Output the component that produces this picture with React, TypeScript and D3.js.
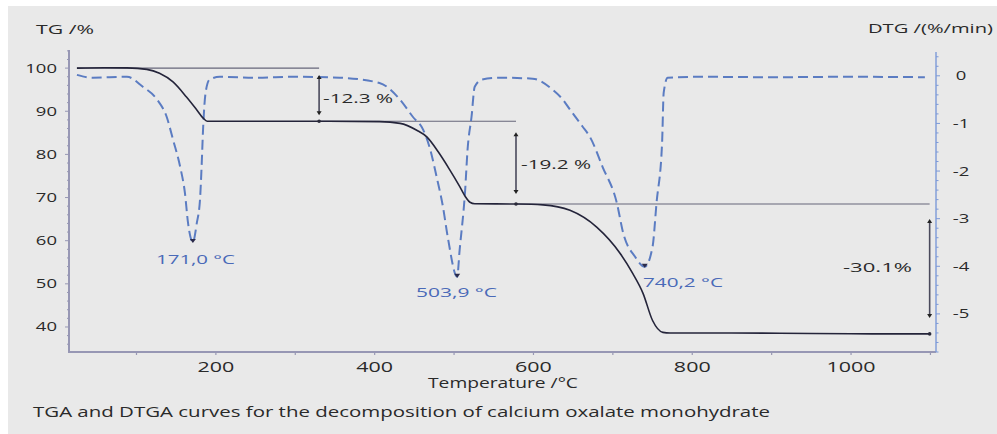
import React from "react";
import * as d3 from "d3";

// Thermogravimetric curve of CaC2O4·H2O: temperature (°C) vs. residual mass (%)
const tgTemp = [25, 60, 88, 113, 129, 146, 163, 176, 184, 189, 200, 300, 406, 432, 453, 466, 480, 494, 507, 515, 520, 526, 580, 612, 646, 680, 709, 725, 738, 750, 763, 772, 850, 950, 1050, 1099];
const tgValue = [100, 100.1, 100.05, 99.7, 98.8, 96.8, 93.3, 90.3, 88.4, 87.7, 87.7, 87.7, 87.6, 87.2, 85.6, 84.0, 80.6, 76.6, 72.6, 70.0, 68.9, 68.55, 68.5, 68.3, 67.05, 63.1, 57.1, 52.4, 47.8, 41.5, 38.75, 38.6, 38.6, 38.5, 38.4, 38.4];

// Derivative curve: temperature (°C) vs. mass-loss rate (%/min)
const dtgTemp = [25, 45, 88, 108, 126, 138, 146, 155, 161, 165, 171, 176, 180, 182, 184, 187, 192, 205, 250, 300, 356, 406, 432, 448, 461, 470, 478, 486, 492, 503.9, 507, 514, 517, 522, 526, 535, 558, 599, 624, 637, 646, 662, 671, 687, 705, 713, 728, 740.2, 750, 755, 762, 764, 769, 810, 900, 1000, 1093];
const dtgValue = [0.02, -0.04, -0.02, -0.23, -0.5, -0.86, -1.34, -1.91, -2.46, -3.1, -3.49, -3.09, -2.6, -1.91, -1.07, -0.36, -0.08, -0.02, -0.04, -0.02, -0.04, -0.15, -0.5, -0.86, -1.13, -1.55, -2.12, -2.75, -3.38, -4.22, -3.66, -2.39, -1.55, -0.86, -0.23, -0.08, -0.04, -0.06, -0.29, -0.5, -0.71, -1.07, -1.28, -1.91, -2.67, -3.3, -3.8, -4.01, -3.59, -2.67, -1.41, -0.36, -0.04, -0.02, -0.03, -0.02, -0.03];

// DTG peak temperatures
const peakTemps = [171.0, 503.9, 740.2];

// Mass-loss steps: plateau levels (%) and the temperature where each step is measured
const plateauLevels = [100, 87.7, 68.5, 38.4];
const stepLosses = [12.3, 19.2, 30.1];
const stepTemps = [330, 578, 1099];
const plateauStart = 25;

// Axis ticks
const xTicks = [200, 400, 600, 800, 1000];
const xMinorTicks = [100, 200, 300, 400, 500, 600, 700, 800, 900, 1000, 1100];
const tgTicks = [40, 50, 60, 70, 80, 90, 100];
const dtgTicks = [0, -1, -2, -3, -4, -5];

const caption = "TGA and DTGA curves for the decomposition of calcium oxalate monohydrate";

const W = 997;
const H = 434;
const FONT = "'Open Sans', 'Noto Sans', sans-serif";
const SX = 1.48;

const x = d3.scaleLinear().domain([15, 1107]).range([69, 936]);
const yTG = d3.scaleLinear().domain([34.2, 104.2]).range([352, 50]);
const yDTG = d3.scaleLinear().domain([-5.8, 0.5]).range([352, 52]);

const tgLine = d3
  .line<number>()
  .x((_, i) => x(tgTemp[i]))
  .y((v) => yTG(v))
  .curve(d3.curveMonotoneX);

const dtgLine = d3
  .line<number>()
  .x((_, i) => x(dtgTemp[i]))
  .y((v) => yDTG(v))
  .curve(d3.curveMonotoneX);

function dtgAt(t: number) {
  const i = dtgTemp.findIndex((d) => Math.abs(d - t) < 0.01);
  return dtgValue[i];
}

const fmtComma = (v: number) => v.toFixed(1).replace(".", ",");

// Stretched label with an exact rendered width
function Label(props: { x: number; y: number; w: number; size: number; fill: string; text: string }) {
  return (
    <text
      x={props.x}
      y={props.y}
      fontSize={props.size}
      fontFamily={FONT}
      fill={props.fill}
      textLength={props.w}
      lengthAdjust="spacingAndGlyphs"
    >
      {props.text}
    </text>
  );
}

function Arrow({ xp, y1, y2 }: { xp: number; y1: number; y2: number }) {
  const c = "#4a4a5c";
  return (
    <g>
      <line x1={xp} x2={xp} y1={y1 + 2} y2={y2 - 2} stroke={c} strokeWidth={1.6} />
      <path d={`M${xp - 2.5},${y1 + 4} L${xp},${y1} L${xp + 2.5},${y1 + 4} Z`} fill="#222" />
      <path d={`M${xp - 2.5},${y2 - 4} L${xp},${y2} L${xp + 2.5},${y2 - 4} Z`} fill="#222" />
    </g>
  );
}

export default function App() {
  const tgPath = tgLine(tgValue) || "";
  const dtgPath = dtgLine(dtgValue) || "";
  const blue = "#5b7cc2";
  const axisGray = "#9797b4";

  const stepLabelPos = [
    { x: 323, y: 103, w: 70 },
    { x: 521, y: 169, w: 70 },
    { x: 843, y: 272, w: 69 },
  ];
  const stepText = ["-12.3 %", "-19.2 %", "-30.1%"];
  const arrowInset = [
    [7, 6],
    [11, 10],
    [15, 16],
  ];
  const peakLabelPos = [
    { x: 156, y: 264, w: 79 },
    { x: 416, y: 297, w: 81 },
    { x: 643, y: 287, w: 80 },
  ];

  return (
    <svg width={W} height={H} style={{ position: "absolute", left: 0, top: 0, display: "block" }}>
      <rect x={0} y={0} width={W} height={H} fill="#ffffff" />
      <rect x={8} y={6} width={W - 8} height={H - 6} fill="#e9e9e9" />

      {/* axis titles */}
      <Label x={36} y={33.5} w={58} size={12.5} fill="#2a2a2a" text="TG /%" />
      <Label x={868} y={32.5} w={125} size={12.5} fill="#2a2a2a" text="DTG /(%/min)" />

      {/* left axis */}
      <line x1={69} x2={69} y1={50} y2={352} stroke={axisGray} strokeWidth={2} />
      {d3.range(36, 104.1, 2).map((v) => (
        <line key={"tm" + v} x1={69} x2={v % 10 === 0 ? 65 : 67} y1={yTG(v)} y2={yTG(v)} stroke={axisGray} strokeWidth={1} />
      ))}
      {tgTicks.map((v) => (
        <text
          key={"tg" + v}
          transform={`translate(57,${yTG(v) + 4.5}) scale(${SX},1)`}
          textAnchor="end"
          fontSize={12.5}
          fontFamily={FONT}
          fill="#2a2a2a"
        >
          {v}
        </text>
      ))}

      {/* bottom axis */}
      <line x1={68} x2={936} y1={352} y2={352} stroke={axisGray} strokeWidth={2} />
      {xMinorTicks.map((v) => (
        <line key={"xm" + v} x1={x(v)} x2={x(v)} y1={352} y2={355} stroke={axisGray} strokeWidth={1.2} />
      ))}
      {xTicks.map((v) => (
        <text
          key={"x" + v}
          transform={`translate(${x(v)},372) scale(${SX},1)`}
          textAnchor="middle"
          fontSize={14.5}
          fontFamily={FONT}
          fill="#2a2a2a"
        >
          {v}
        </text>
      ))}
      <Label x={428} y={388} w={150} size={14} fill="#2a2a2a" text="Temperature /°C" />

      {/* right axis */}
      <line x1={936} x2={936} y1={52} y2={352} stroke="#7d9ad8" strokeWidth={1.4} />
      {d3.range(-5.8, 0.41, 0.2).map((v) => {
        const major = Math.abs(v - Math.round(v)) < 1e-6;
        return (
          <line key={"dm" + v.toFixed(1)} x1={936} x2={major ? 940 : 938.5} y1={yDTG(v)} y2={yDTG(v)} stroke="#7d9ad8" strokeWidth={1} />
        );
      })}
      {dtgTicks.map((v) => (
        <text
          key={"dtg" + v}
          transform={`translate(961,${yDTG(v) + 4.5}) scale(${SX},1)`}
          textAnchor="middle"
          fontSize={12.5}
          fontFamily={FONT}
          fill="#2a2a2a"
        >
          {v === 0 ? "0" : "-" + Math.abs(v)}
        </text>
      ))}

      {/* plateau reference lines */}
      {stepTemps.map((t, i) => (
        <line
          key={"pl" + i}
          x1={x(i === 0 ? plateauStart : stepTemps[i - 1])}
          x2={x(t)}
          y1={yTG(plateauLevels[i])}
          y2={yTG(plateauLevels[i])}
          stroke="#66667a"
          strokeWidth={1.1}
        />
      ))}

      {/* DTG curve */}
      <path d={dtgPath} fill="none" stroke={blue} strokeWidth={2} strokeDasharray="10 5" />

      {/* TG curve */}
      <path d={tgPath} fill="none" stroke="#24243a" strokeWidth={1.6} />

      {/* mass-loss arrows */}
      {stepTemps.map((t, i) => (
        <g key={"ar" + i}>
          <Arrow xp={x(t)} y1={yTG(plateauLevels[i]) + arrowInset[i][0]} y2={yTG(plateauLevels[i + 1]) - arrowInset[i][1]} />
          <circle cx={x(t)} cy={yTG(plateauLevels[i + 1])} r={1.8} fill="#2a2a3a" />
          <Label
            x={stepLabelPos[i].x}
            y={stepLabelPos[i].y}
            w={stepLabelPos[i].w}
            size={13}
            fill="#2a2a2a"
            text={stepText[i].replace(/[\d.]+/, stepLosses[i].toFixed(1))}
          />
        </g>
      ))}

      {/* DTG peak markers */}
      {peakTemps.map((t, i) => {
        const px = x(t);
        const py = yDTG(dtgAt(t));
        return (
          <g key={"pk" + i}>
            <path d={`M${px - 3},${py - 3} L${px + 3},${py - 3} L${px},${py + 1} Z`} fill="#2a2a4a" />
            <Label x={peakLabelPos[i].x} y={peakLabelPos[i].y} w={peakLabelPos[i].w} size={13} fill="#4a6ab8" text={`${fmtComma(t)} °C`} />
          </g>
        );
      })}

      {/* caption */}
      <Label x={33} y={417} w={737} size={14} fill="#2a2a2a" text={caption} />
    </svg>
  );
}
